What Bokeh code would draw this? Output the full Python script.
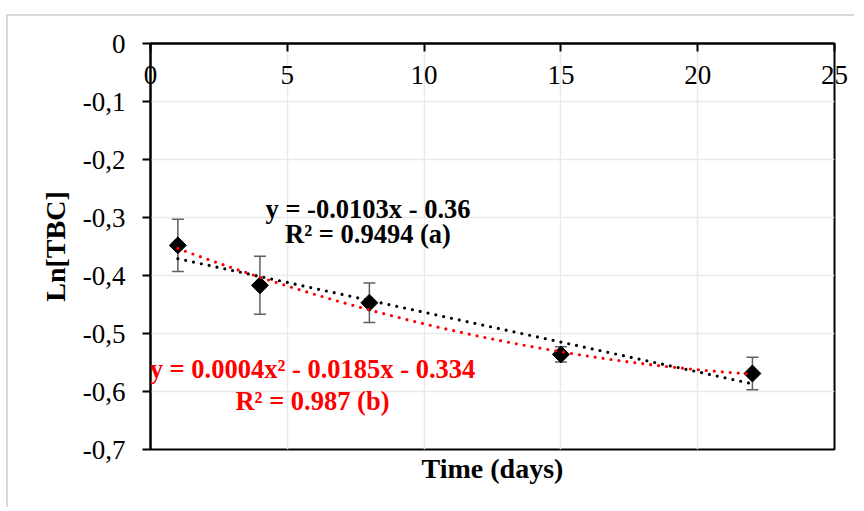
import numpy as np
from bokeh.plotting import figure
from bokeh.models import (ColumnDataSource, FixedTicker, LinearAxis, Range1d, Whisker,
                          TeeHead, Label, CustomJSTickFormatter)
from bokeh.embed import file_html
from bokeh.resources import INLINE

# ---- data ----
days = [1, 4, 8, 15, 22]
ln_tbc = [-0.348, -0.417, -0.447, -0.536, -0.569]
err = [0.045, 0.050, 0.034, 0.013, 0.028]

x_ticks = [0, 5, 10, 15, 20, 25]
x_tick_labels = ["0", "5", "10", "15", "20", "25"]
y_ticks = [0, -0.1, -0.2, -0.3, -0.4, -0.5, -0.6, -0.7]
y_tick_labels = ["0", "-0,1", "-0,2", "-0,3", "-0,4", "-0,5", "-0,6", "-0,7"]

eq_linear = "y = -0.0103x - 0.36"
r2_linear = "R² = 0.9494 (a)"
eq_quad = "y = 0.0004x² - 0.0185x - 0.334"
r2_quad = "R² = 0.987 (b)"

x_title = "Time (days)"
y_title = "Ln[TBC]"

FONT = "Liberation Serif"
TICK_FS = "27px"
TITLE_FS = "28px"

p = figure(width=848, height=493, output_backend="svg", toolbar_location=None,
           x_range=Range1d(0, 25), y_range=Range1d(-0.7, 0),
           x_axis_location="above", min_border_left=142, min_border_top=27,
           min_border_right=22, min_border_bottom=60)
p.styles = {"border-left": "2px solid #d9d9d9", "border-top": "2px solid #d9d9d9",
            "margin-top": "14px", "margin-left": "6px"}
p.background_fill_color = "white"
p.border_fill_color = "white"
p.outline_line_color = "black"
p.outline_line_width = 2


def label_formatter(ticks, labels):
    return CustomJSTickFormatter(args=dict(tv=ticks, tl=labels), code="""
const i = tv.findIndex(t => Math.abs(t - tick) < 1e-9);
return i >= 0 ? tl[i] : '';
""")


# top x axis: ticks pointing inward, labels just below the axis line (inside the frame)
xa = p.xaxis[0]
xa.ticker = FixedTicker(ticks=x_ticks)
xa.formatter = label_formatter(x_ticks, x_tick_labels)
xa.major_tick_in = 8
xa.major_tick_out = 0
xa.minor_tick_in = 0
xa.minor_tick_out = 0
xa.axis_line_width = 2
xa.major_tick_line_width = 2
xa.major_label_text_font = FONT
xa.major_label_text_font_size = TICK_FS
xa.major_label_text_color = "black"
xa.major_label_standoff = -40

# left y axis
ya = p.yaxis[0]
ya.ticker = FixedTicker(ticks=y_ticks)
ya.formatter = label_formatter(y_ticks, y_tick_labels)
ya.major_tick_in = 0
ya.major_tick_out = 8
ya.minor_tick_in = 0
ya.minor_tick_out = 0
ya.axis_line_width = 2
ya.major_tick_line_width = 2
ya.major_label_text_font = FONT
ya.major_label_text_font_size = TICK_FS
ya.major_label_text_color = "black"
ya.major_label_standoff = 17
ya.axis_label = y_title
ya.axis_label_text_font = FONT
ya.axis_label_text_font_style = "bold"
ya.axis_label_text_font_size = TITLE_FS
ya.axis_label_text_color = "black"
ya.axis_label_standoff = 9

# bottom axis only for the title
xb = LinearAxis(ticker=FixedTicker(ticks=[]), axis_line_color=None,
                major_tick_line_color=None, minor_tick_line_color=None,
                major_label_text_font_size="1px", major_label_text_alpha=0,
                major_label_standoff=0)
xb.axis_label = x_title
xb.axis_label_text_font = FONT
xb.axis_label_text_font_style = "bold"
xb.axis_label_text_font_size = TITLE_FS
xb.axis_label_text_color = "black"
xb.axis_label_standoff = 3
p.add_layout(xb, "below")

# grids
p.xgrid.ticker = FixedTicker(ticks=x_ticks)
p.ygrid.ticker = FixedTicker(ticks=y_ticks)
for g in (p.xgrid[0], p.ygrid[0]):
    g.grid_line_color = "#e9e9e9"
    g.grid_line_width = 1.5

# data
src = ColumnDataSource(dict(x=days, y=ln_tbc,
                            lo=[v - e for v, e in zip(ln_tbc, err)],
                            hi=[v + e for v, e in zip(ln_tbc, err)]))
p.add_layout(Whisker(base="x", lower="lo", upper="hi", source=src,
                     line_color="#606060", line_width=1.5,
                     upper_head=TeeHead(size=12, line_color="#606060", line_width=1.5),
                     lower_head=TeeHead(size=12, line_color="#606060", line_width=1.5)))
p.scatter("x", "y", source=src, marker="square", angle=np.pi / 4, size=12,
          fill_color="black", line_color="black")

# trend lines (fitted to the data)
xs = np.linspace(min(days), max(days), 300)
c1 = np.polyfit(days, ln_tbc, 1)
c2 = np.polyfit(days, ln_tbc, 2)
p.line(xs, np.polyval(c1, xs), line_color="black", line_width=3.2,
       line_dash="0 8", line_cap="round")
p.line(xs, np.polyval(c2, xs), line_color="#ff0000", line_width=3.2,
       line_dash="0 8", line_cap="round")


# equation labels
def add_label(x, y, text, color):
    p.add_layout(Label(x=x, y=y, text=text, text_align="center", text_baseline="middle",
                       text_font=FONT, text_font_style="bold", text_font_size="26.5px",
                       text_color=color))


add_label(7.95, -0.285, eq_linear, "black")
add_label(7.95, -0.328, r2_linear, "black")
add_label(5.92, -0.561, eq_quad, "#ff0000")
add_label(5.92, -0.617, r2_quad, "#ff0000")

open("out.html", "w").write(file_html(p, INLINE))
